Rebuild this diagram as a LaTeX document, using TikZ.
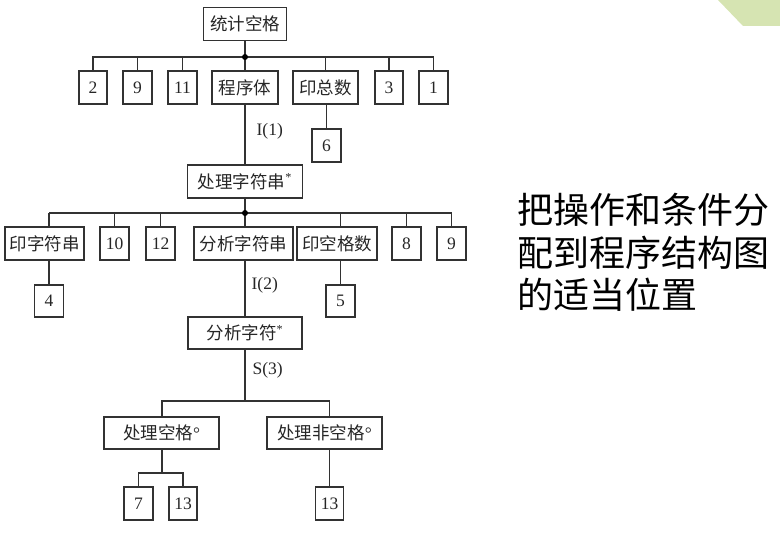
\documentclass[tikz,border=0pt]{standalone}
\usepackage{fontspec}
\setmainfont{Liberation Serif}
\newfontfamily\cjk{Noto Sans CJK SC}
\definecolor{lin}{RGB}{50,50,50}
\definecolor{leaf}{RGB}{214,228,178}
\tikzset{
  bx/.style={draw=lin, line width=1.3pt, inner sep=0pt, minimum height=33pt, font=\fontsize{17.5}{20}\selectfont, text=black!85},
  cn/.style={draw=lin, line width=1.3pt},
  lbl/.style={inner sep=0pt, anchor=west, font=\fontsize{17.5}{20}\selectfont, text=black!85},
  big/.style={inner sep=0pt, anchor=base west, font=\cjk\fontsize{36}{43}\selectfont, text=black}
}
\begin{document}
\begin{tikzpicture}[x=1pt,y=-1pt]
\useasboundingbox (0,0) rectangle (780,534);
\fill[leaf] (718,0) -- (743,26) -- (780,26) -- (780,0) -- cycle;
% level 0
\node[bx, minimum width=83pt] (top) at (245,24) {\cjk 统计空格};
% level 1
\node[bx, minimum width=28pt] (n2) at (93,87.5) {2};
\node[bx, minimum width=29pt] (n9a) at (137.5,87.5) {9};
\node[bx, minimum width=29pt] (n11) at (182.5,87.5) {11};
\node[bx, minimum width=66pt] (prog) at (245,87.5) {\cjk 程序体};
\node[bx, minimum width=65pt] (yzs) at (325.5,87.5) {\cjk 印总数};
\node[bx, minimum width=28pt] (n3) at (389,87.5) {3};
\node[bx, minimum width=29pt] (n1) at (433.5,87.5) {1};
\node[bx, minimum width=29pt] (n6) at (326.5,145.5) {6};
% level 2
\node[bx, minimum width=115pt] (clzfc) at (245,181.5) {{\cjk 处理字符串}\textsuperscript{*}};
\node[bx, minimum width=79pt] (yzfc) at (44.5,243.5) {\cjk 印字符串};
\node[bx, minimum width=29pt] (n10) at (114.5,243.5) {10};
\node[bx, minimum width=29pt] (n12) at (160.5,243.5) {12};
\node[bx, minimum width=99pt] (fxzfc) at (243.5,243.5) {\cjk 分析字符串};
\node[bx, minimum width=80pt] (ykgs) at (337,243.5) {\cjk 印空格数};
\node[bx, minimum width=29pt] (n8) at (406.5,243.5) {8};
\node[bx, minimum width=29pt] (n9b) at (451.5,243.5) {9};
\node[bx, minimum width=29pt, minimum height=32pt] (n4) at (49,301) {4};
\node[bx, minimum width=29pt, minimum height=32pt] (n5) at (340.5,301) {5};
% level 3
\node[bx, minimum width=114pt, minimum height=32pt] (fxzf) at (245,333) {{\cjk 分析字符}\textsuperscript{*}};
\node[bx, minimum width=115pt, minimum height=32pt] (kg) at (161.5,433) {{\cjk 处理空格}°};
\node[bx, minimum width=115pt, minimum height=32pt] (fkg) at (324.5,433) {{\cjk 处理非空格}°};
\node[bx, minimum width=29pt] (n7) at (138.5,503.5) {7};
\node[bx, minimum width=28pt] (n13a) at (183,503.5) {13};
\node[bx, minimum width=28pt] (n13b) at (329.5,503.5) {13};
% junction coordinates
\coordinate (j1) at (245,57);
\coordinate (j2) at (245,213);
\coordinate (j3) at (245,401);
\coordinate (j4) at (162,473);
\coordinate (s3) at (162,449);
% connectors level 0-1
\draw[cn] (top.south) -- (j1);
\draw[cn] (n2.north) |- (n1.north |- j1) -- (n1.north);
\foreach \n in {n9a,n11,prog,yzs,n3} \draw[cn] (j1 -| \n.north) -- (\n.north);
\fill[black] (j1) circle (3pt);
\draw[cn] (yzs.south -| n6) -- (n6.north);
\draw[cn] (prog.south) -- node[lbl, pos=0.45, xshift=11pt] {I(1)} (clzfc.north);
% level 2
\draw[cn] (clzfc.south) -- (j2);
\draw[cn] (j2 -| n4) -- (n9b.north |- j2) -- (n9b.north);
\draw[cn] (j2 -| n4) -- (yzfc.north -| n4);
\draw[cn] (j2 -| n5) -- (ykgs.north -| n5);
\foreach \n in {n10,n12,n8} \draw[cn] (j2 -| \n.north) -- (\n.north);
\draw[cn] (j2) -- (fxzfc.north -| j2);
\fill[black] (j2) circle (3pt);
\draw[cn] (yzfc.south -| n4) -- (n4.north);
\draw[cn] (ykgs.south -| n5) -- (n5.north);
\draw[cn] (fxzfc.south -| j2) -- node[lbl, pos=0.45, xshift=6pt] {I(2)} (fxzf.north);
% level 3
\draw[cn] (fxzf.south) -- node[lbl, pos=0.4, xshift=7pt] {S(3)} (j3);
\draw[cn] (kg.north -| s3) |- (j3 -| n13b) -- (fkg.north -| n13b);
\draw[cn] (kg.south -| s3) -- (j4);
\draw[cn] (n7.north) |- (j4) -| (n13a.north);
\draw[cn] (fkg.south -| n13b) -- (n13b.north);
% right text
\node[big] (t1) at (517,224) {把操作和条件分};
\node[big] (t2) at (517,267) {配到程序结构图};
\node[big] (t3) at (517,309) {的适当位置};
\end{tikzpicture}
\end{document}
